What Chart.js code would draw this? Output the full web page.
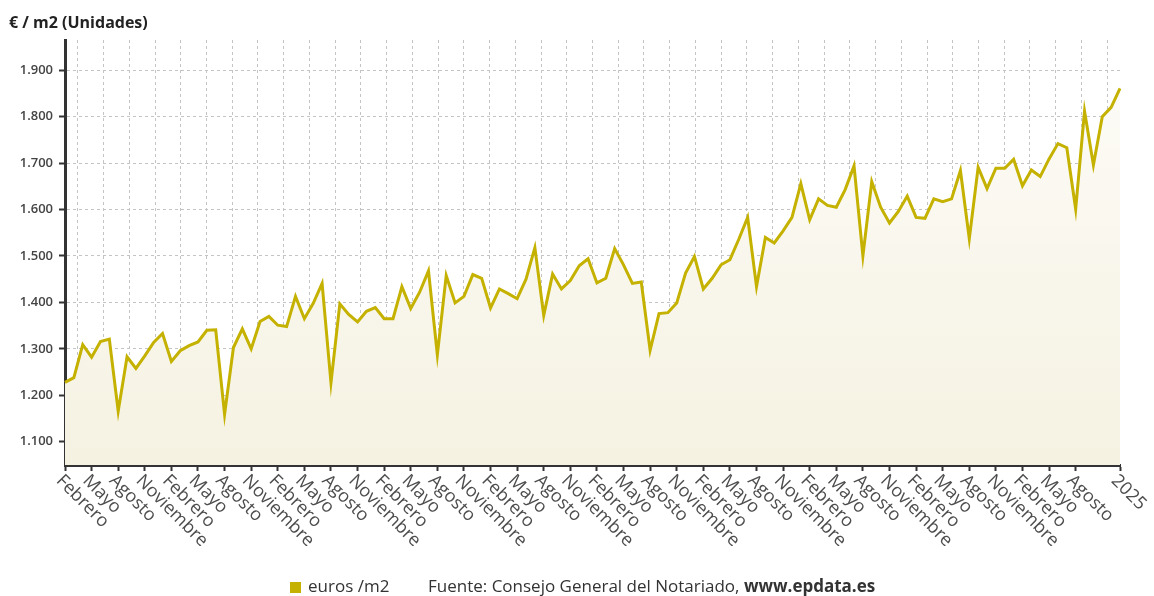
<!DOCTYPE html>
<html>
<head>
<meta charset="utf-8">
<script src="https://cdn.jsdelivr.net/npm/chart.js@4/dist/chart.umd.min.js"></script>
<style>
  html, body { margin: 0; padding: 0; background: #ffffff; }
  #wrap { width: 1154px; height: 596px; position: relative; }
</style>
</head>
<body>
<div id="wrap"><canvas id="c" width="1154" height="596"></canvas></div>
<script>
const categorias = [
  "Febrero","Marzo","Abril","Mayo","Junio","Julio","Agosto","Septiembre","Octubre","Noviembre","Diciembre",
  "2016","Febrero","Marzo","Abril","Mayo","Junio","Julio","Agosto","Septiembre","Octubre","Noviembre","Diciembre",
  "2017","Febrero","Marzo","Abril","Mayo","Junio","Julio","Agosto","Septiembre","Octubre","Noviembre","Diciembre",
  "2018","Febrero","Marzo","Abril","Mayo","Junio","Julio","Agosto","Septiembre","Octubre","Noviembre","Diciembre",
  "2019","Febrero","Marzo","Abril","Mayo","Junio","Julio","Agosto","Septiembre","Octubre","Noviembre","Diciembre",
  "2020","Febrero","Marzo","Abril","Mayo","Junio","Julio","Agosto","Septiembre","Octubre","Noviembre","Diciembre",
  "2021","Febrero","Marzo","Abril","Mayo","Junio","Julio","Agosto","Septiembre","Octubre","Noviembre","Diciembre",
  "2022","Febrero","Marzo","Abril","Mayo","Junio","Julio","Agosto","Septiembre","Octubre","Noviembre","Diciembre",
  "2023","Febrero","Marzo","Abril","Mayo","Junio","Julio","Agosto","Septiembre","Octubre","Noviembre","Diciembre",
  "2024","Febrero","Marzo","Abril","Mayo","Junio","Julio","Agosto","Septiembre","Octubre","Noviembre","Diciembre",
  "2025"
];

const eurosM2 = [
  1228,1238,1309,1282,1316,1321,1166,1283,1258,1285,1314,1333,
  1273,1296,1307,1315,1340,1341,1159,1303,1343,1300,1359,1370,
  1351,1348,1413,1365,1398,1441,1227,1397,1374,1358,1381,1389,
  1365,1365,1434,1387,1422,1468,1287,1458,1399,1413,1460,1452,
  1388,1429,1419,1408,1450,1518,1372,1461,1429,1447,1479,1494,
  1442,1452,1516,1481,1441,1444,1297,1376,1378,1399,1463,1499,
  1429,1452,1481,1492,1536,1583,1434,1540,1528,1554,1583,1656,
  1578,1623,1609,1605,1643,1694,1500,1660,1605,1571,1596,1629,
  1583,1581,1623,1617,1623,1684,1537,1691,1645,1689,1689,1708,
  1651,1685,1671,1709,1742,1733,1601,1812,1696,1800,1820,1861
];

const yTicks = [1100, 1200, 1300, 1400, 1500, 1600, 1700, 1800, 1900];

const tituloEje = "€ / m2 (Unidades)";
const nombreSerie = "euros /m2";
const fuente = "Fuente: Consejo General del Notariado, ";
const fuenteWeb = "www.epdata.es";

const LAST = categorias.length - 1;
function mostrado(i) { return (i % 3 === 0 && i <= LAST - 5) || i === LAST; }

function fmtNum(v) {
  return String(v).replace(/\B(?=(\d{3})+(?!\d))/g, ".");
}

const textPlugin = {
  id: 'textPlugin',
  afterDraw(chart) {
    const ctx = chart.ctx;
    const xs = chart.scales.x;
    const bottom = chart.chartArea.bottom;
    ctx.save();
    // rotated x labels
    ctx.font = '18px "Open Sans"';
    ctx.fillStyle = '#4d4d4d';
    ctx.textAlign = 'left';
    ctx.textBaseline = 'middle';
    for (let i = 0; i < categorias.length; i++) {
      if (!mostrado(i)) continue;
      const x = xs.getPixelForValue(i);
      ctx.save();
      ctx.translate(x - 6, bottom + 13);
      ctx.rotate(Math.PI / 4);
      ctx.fillText(categorias[i], 0, 0);
      ctx.restore();
    }
    // title
    ctx.font = 'bold 16px "Open Sans"';
    ctx.fillStyle = '#222222';
    ctx.textBaseline = 'alphabetic';
    ctx.fillText(tituloEje, 9, 28);
    // legend
    ctx.fillStyle = '#c5b100';
    ctx.fillRect(290, 582, 11, 11);
    ctx.font = '17px "Open Sans"';
    ctx.fillStyle = '#333333';
    ctx.fillText(nombreSerie, 308, 592);
    ctx.fillText(fuente, 428, 592);
    const w = ctx.measureText(fuente).width;
    ctx.font = 'bold 17px "Open Sans"';
    ctx.fillText(fuenteWeb, 428 + w, 592);
    ctx.restore();
  }
};

const ctx = document.getElementById('c').getContext('2d');
new Chart(ctx, {
  type: 'line',
  data: {
    labels: categorias,
    datasets: [{
      label: nombreSerie,
      data: eurosM2,
      borderColor: '#c5b100',
      borderWidth: 3,
      pointRadius: 0,
      tension: 0,
      fill: 'start',
      backgroundColor: (c) => {
        const area = c.chart.chartArea;
        if (!area) return '#f6f3e4';
        const g = c.chart.ctx.createLinearGradient(0, area.top, 0, area.bottom);
        g.addColorStop(0, '#fdfcf8');
        g.addColorStop(1, '#f5f2e2');
        return g;
      }
    }]
  },
  options: {
    responsive: false,
    animation: false,
    layout: { padding: { left: 0, right: 34, top: 40, bottom: 0 } },
    plugins: { legend: { display: false }, tooltip: { enabled: false }, title: { display: false } },
    scales: {
      x: {
        type: 'category',
        position: 'bottom',
        weight: 1,
        offset: false,
        afterFit: (s) => { s.height = 131; },
        ticks: { display: false, autoSkip: false },
        grid: {
          display: true,
          drawOnChartArea: false,
          drawTicks: true,
          tickLength: 6,
          tickWidth: 2,
          tickColor: (c) => mostrado(c.index) ? '#333333' : 'rgba(0,0,0,0)'
        },
        border: { display: true, color: '#333333', width: 3 }
      },
      xg: {
        type: 'linear',
        position: 'bottom',
        weight: 2,
        min: -0.5,
        max: 40.5,
        afterFit: (s) => { s.height = 0; },
        afterBuildTicks: (s) => { const t = []; for (let k = 0; k <= 40; k++) t.push({ value: k }); s.ticks = t; },
        ticks: { display: false },
        grid: { display: true, drawTicks: false, color: '#c4c4c4', lineWidth: 1 },
        border: { display: false, dash: [3, 3] }
      },
      y: {
        min: 1050,
        max: 1965,
        afterFit: (s) => { s.width = 65; },
        afterBuildTicks: (s) => { s.ticks = yTicks.map(v => ({ value: v })); },
        ticks: {
          padding: 6,
          color: '#444444',
          font: { family: '"Open Sans"', size: 13, weight: '600' },
          callback: (v) => fmtNum(v)
        },
        grid: {
          color: '#c4c4c4',
          lineWidth: 1,
          tickLength: 6,
          tickWidth: 2,
          tickColor: '#333333',
          tickBorderDash: [],
        },
        border: { display: true, color: '#333333', width: 3, dash: [3, 3] }
      }
    }
  },
  plugins: [textPlugin]
});
</script>
</body>
</html>
